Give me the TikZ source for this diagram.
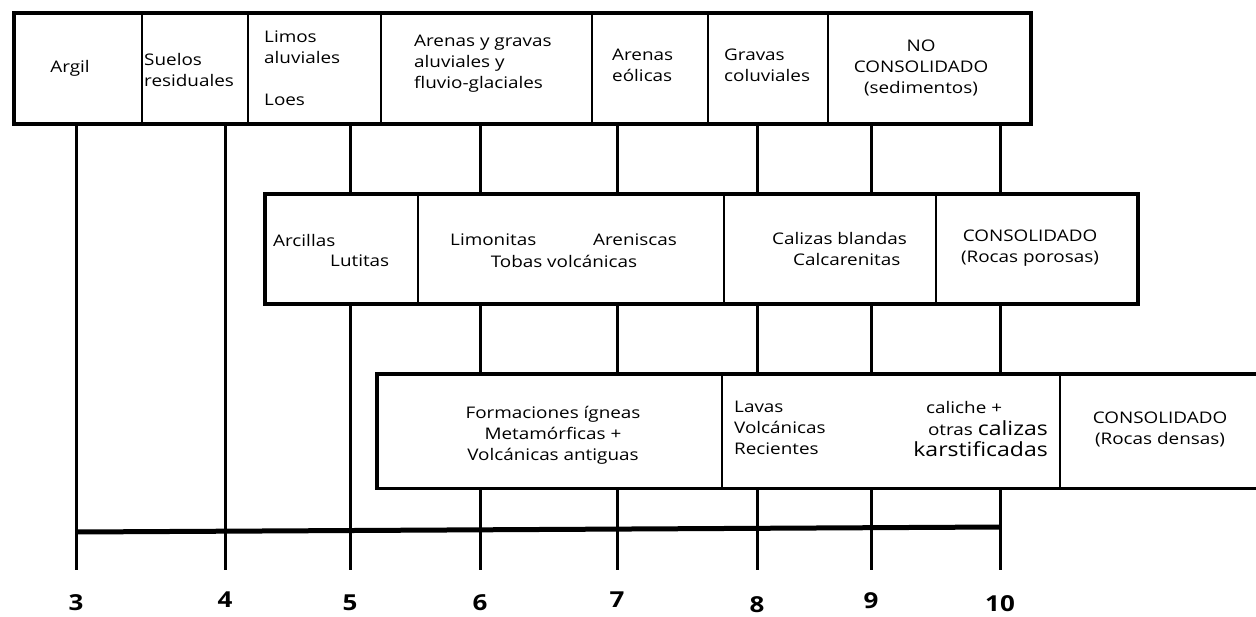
\documentclass[tikz,border=0pt]{standalone}
\usepackage{fontspec}
\setmainfont{Open Sans}[FakeStretch=1.18]
\usetikzlibrary{positioning,calc}

\begin{document}
\begin{tikzpicture}[x=1pt, y=-1pt,
    band/.style={rectangle, inner sep=0pt, anchor=north west, line width=3.5pt},
    txt/.style={inner sep=0pt, align=left, font=\fontsize{16}{21}\selectfont},
    big/.style={inner sep=0pt, font=\fontsize{19.5}{21}\selectfont},
    num/.style={inner sep=0pt, font=\fontsize{22}{22}\selectfont\bfseries},
    sep/.style={line width=1.2pt},
    link/.style={line width=3pt}]
    \useasboundingbox (0, 0) rectangle (1256, 616);

    % bandas
    \node[band, draw, minimum width=1017pt, minimum height=111pt] (nocons) at (12, 11) {};
    \node[band, draw, minimum width=873pt, minimum height=110pt] (poros) at (263, 192) {};
    \node[band, minimum width=879pt, minimum height=111pt] (densas) at (377, 374) {};
    \draw[line width=3.5pt] (densas.north east) -- (densas.north west) -- (densas.south west) -- (densas.south east);

    \foreach \x in {142, 248, 381, 592, 708, 828}
        \draw[sep] (\x,0 |- nocons.north) -- (\x,0 |- nocons.south);
    \foreach \x in {418, 724, 936}
        \draw[sep] (\x,0 |- poros.north) -- (\x,0 |- poros.south);
    \foreach \x in {722, 1060}
        \draw[sep] (\x,0 |- densas.north) -- (\x,0 |- densas.south);

    % escala
    \foreach \n/\x in {3/76, 4/225, 5/350, 6/480, 7/617, 8/757, 9/871, 10/1000}
        \coordinate (t\n) at (\x, 570);
    \coordinate (a3) at (76, 532);
    \coordinate (a10) at (1000, 527);
    \draw[line width=5pt] (a3) -- (a10);

    \draw[link]
    (t3 |- nocons.south) -- (t3)
    (t4 |- nocons.south) -- (t4)
    (t5 |- nocons.south) -- (t5 |- poros.north)
    (t5 |- poros.south) -- (t5);
    \foreach \n in {6, ..., 10}
        \draw[link] (t\n |- nocons.south) -- (t\n |- poros.north)
            (t\n |- poros.south) -- (t\n |- densas.north)
            (t\n |- densas.south) -- (t\n);

    \foreach \n/\y in {3/603, 4/600, 5/603, 6/603, 7/600, 8/605, 9/601, 10/604}
        \node[num] (n\n) at (t\n |- 0,\y) {\n};

    % no consolidado
    \node[txt] (argil) at (70, 68) {Argil};
    \node[txt, anchor=west] (suelos) at (144, 70) {Suelos\\residuales};
    \node[txt, anchor=west] (limos) at (264, 47) {Limos\\aluviales};
    \node[txt, anchor=west] (loes) at (264, 100) {Loes};
    \node[txt, anchor=west] (arenasgr) at (414, 64) {Arenas y gravas\\aluviales y\\fluvio-glaciales};
    \node[txt, anchor=west] (eolicas) at (612, 65) {Arenas\\eólicas};
    \node[txt, anchor=west] (gravas) at (724, 65) {Gravas\\coluviales};
    \node[txt, align=center] (noconsl) at (921, 68) {NO\\CONSOLIDADO\\(sedimentos)};

    % rocas porosas
    \node[txt, anchor=west] (arcillas) at (273, 240) {Arcillas};
    \node[txt, anchor=west] (lutitas) at (330, 261) {Lutitas};
    \node[txt, anchor=west] (limonitas) at (450, 240) {Limonitas};
    \node[txt, anchor=west] (areniscas) at (593, 240) {Areniscas};
    \node[txt] (tobas) at (564, 261) {Tobas volcánicas};
    \node[txt, anchor=west] (calizasbl) at (772, 238) {Calizas blandas};
    \node[txt, anchor=west] (calcaren) at (793, 259) {Calcarenitas};
    \node[txt, align=center] (porosl) at (1030, 248) {CONSOLIDADO\\(Rocas porosas)};

    % rocas densas
    \node[txt, align=center] (igneas) at (553, 435) {Formaciones ígneas\\Metamórficas +\\Volcánicas antiguas};
    \node[txt, anchor=west] (lavas) at (734, 428) {Lavas\\Volcánicas\\Recientes};
    \node[txt, anchor=west] (caliche) at (926, 407) {caliche +};
    \node[txt, anchor=east] (otras) at (1048, 428) {otras {\fontsize{19.5}{21}\selectfont calizas}};
    \node[big, anchor=east] (karst) at (1048, 449) {karstificadas};
    \node[txt, align=center] (densasl) at (1160, 429) {CONSOLIDADO\\(Rocas densas)};
\end{tikzpicture}
\end{document}
